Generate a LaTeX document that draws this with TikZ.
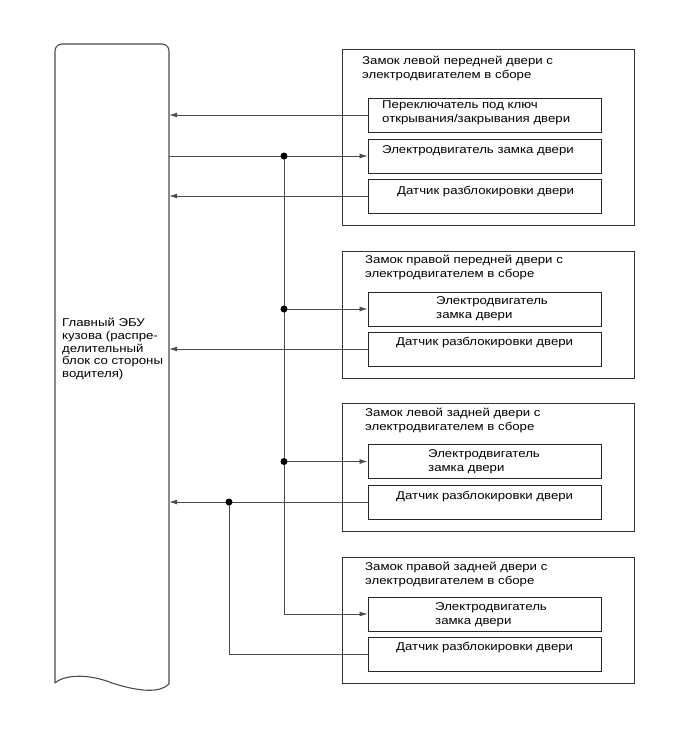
\documentclass[tikz,border=0pt]{standalone}
\usepackage{fontspec}
\setmainfont[FakeStretch=1.17]{Liberation Sans}
\usetikzlibrary{arrows.meta}
\begin{document}
\begin{tikzpicture}[x=1pt,y=-1pt,
  box/.style={draw=black!85,line width=1pt,minimum width=233pt,minimum height=34pt,inner sep=0pt},
  outer/.style={draw=black!80,line width=1pt,minimum width=292pt,inner sep=0pt},
  txt/.style={anchor=north west,inner sep=0pt,align=left,font=\fontsize{11.3}{14}\selectfont},
  wire/.style={draw=black!70,line width=0.8pt},
  arr/.style={wire,-{Latex[length=8pt,width=5pt]}},
  dot/.style={circle,fill=black,inner sep=0pt,minimum size=7pt}]
\useasboundingbox (0,0) rectangle (689,756);
% ECU
\node[minimum width=114pt,minimum height=640pt,inner sep=0pt] (ecu) at (112,364) {};
\draw[draw=black!70,line width=1.1pt] (55,683) [rounded corners=7pt] -- (55,44) -- (169,44) [sharp corners] -- (169,684)
  .. controls (160,693) and (140,692) .. (112,683) .. controls (90,674) and (65,674) .. (55,683);
\node[txt,font=\fontsize{11.3}{12.8}\selectfont] (ecut) at (62,318) {Главный ЭБУ\\кузова (распре-\\делительный\\блок со стороны\\водителя)};
% outer boxes
\node[outer,minimum height=176pt] (o1) at (488,137) {};
\node[outer,minimum height=127pt] (o2) at (488,314.5) {};
\node[outer,minimum height=128pt] (o3) at (488,467) {};
\node[outer,minimum height=126pt] (o4) at (488,620) {};
\node[txt] (t1) at (362,56) {Замок левой передней двери с\\электродвигателем в сборе};
\node[txt] (t2) at (365,255) {Замок правой передней двери с\\электродвигателем в сборе};
\node[txt] (t3) at (365,408) {Замок левой задней двери с\\электродвигателем в сборе};
\node[txt] (t4) at (365,562) {Замок правой задней двери с\\электродвигателем в сборе};
% inner boxes
\node[box] (b1a) at (484.5,115) {};
\node[box] (b1b) at (484.5,156) {};
\node[box] (b1c) at (484.5,196) {};
\node[box] (b2a) at (484.5,309) {};
\node[box] (b2b) at (484.5,349) {};
\node[box] (b3a) at (484.5,461.5) {};
\node[box] (b3b) at (484.5,502) {};
\node[box] (b4a) at (484.5,614) {};
\node[box] (b4b) at (484.5,654.5) {};
\node[txt] (x1a) at (382,101) {Переключатель под ключ\\открывания/закрывания двери};
\node[txt] (x1b) at (382,145) {Электродвигатель замка двери};
\node[txt] (x1c) at (397,186) {Датчик разблокировки двери};
\node[txt] (x2a) at (436,296) {Электродвигатель\\замка двери};
\node[txt] (x2b) at (396,337) {Датчик разблокировки двери};
\node[txt] (x3a) at (428,449) {Электродвигатель\\замка двери};
\node[txt] (x3b) at (396,491) {Датчик разблокировки двери};
\node[txt] (x4a) at (435,602) {Электродвигатель\\замка двери};
\node[txt] (x4b) at (396,642) {Датчик разблокировки двери};
% junctions
\coordinate (j1) at (284,156);
\coordinate (j2) at (284,309);
\coordinate (j3) at (284,461.5);
\coordinate (j4) at (229,502);
% connectors
\draw[arr] (b1a.west) -- (b1a.west -| ecu.east);
\draw[arr] (b1b.west -| ecu.east) -- (b1b.west);
\draw[arr] (b1c.west) -- (b1c.west -| ecu.east);
\draw[arr] (j2) -- (b2a.west);
\draw[arr] (b2b.west) -- (b2b.west -| ecu.east);
\draw[arr] (j3) -- (b3a.west);
\draw[arr] (b3b.west) -- (b3b.west -| ecu.east);
\draw[arr] (j1) |- (b4a.west);
\draw[wire] (b4b.west) -| (j4);
\foreach \j in {j1,j2,j3,j4} \node[dot] at (\j) {};
\end{tikzpicture}
\end{document}
